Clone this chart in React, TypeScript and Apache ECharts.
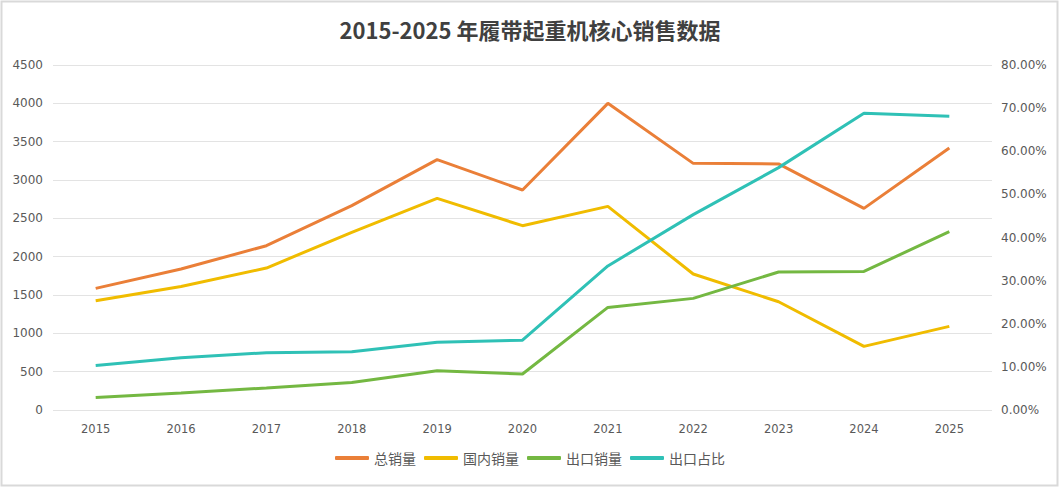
import React, { useEffect, useRef } from "react";
import * as echarts from "echarts";

const years = ["2015", "2016", "2017", "2018", "2019", "2020", "2021", "2022", "2023", "2024", "2025"];
const totalSales = [1586, 1839, 2143, 2665, 3265, 2870, 4000, 3217, 3210, 2630, 3417];
const domesticSales = [1426, 1612, 1852, 2317, 2760, 2404, 2656, 1774, 1412, 830, 1091];
const exportSales = [164, 222, 287, 360, 513, 470, 1338, 1456, 1800, 1808, 2326];
const exportRatio = [10.3, 12.1, 13.3, 13.5, 15.7, 16.2, 33.4, 45.3, 56.2, 68.8, 68.1];

const seriesNames = ["总销量", "国内销量", "出口销量", "出口占比"];
const colors = ["#EA7F38", "#F0BC00", "#74B842", "#2FC1B6"];

export default function App() {
  const ref = useRef<HTMLDivElement>(null);
  useEffect(() => {
    if (!ref.current) return;
    const chart = echarts.init(ref.current, undefined, { renderer: "svg" });
    const font = "'Noto Sans CJK SC', 'Noto Sans', sans-serif";
    const numFont = "'DejaVu Sans', sans-serif";
    const mk = (name: string, data: number[], color: string, yIdx: number) => ({
      name,
      type: "line",
      data,
      yAxisIndex: yIdx,
      symbol: "none",
      showSymbol: false,
      lineStyle: { color, width: 3 },
      itemStyle: { color },
    });
    chart.setOption({
      animation: false,
      backgroundColor: "#ffffff",
      textStyle: { fontFamily: font },
      title: {
        text: "2015-2025 年履带起重机核心销售数据",
        left: "center",
        top: 13,
        textStyle: { fontFamily: font, fontSize: 22, fontWeight: "bold", color: "#404040" },
      },
      graphic: [
        {
          type: "rect",
          shape: { x: 1.5, y: 1.5, width: 1056, height: 484 },
          style: { fill: "none", stroke: "#d9d9d9", lineWidth: 2 },
          silent: true,
        },
      ],
      legend: {
        bottom: 18,
        left: "center",
        icon: "roundRect",
        itemWidth: 34,
        itemHeight: 4,
        itemGap: 8,
        data: seriesNames,
        textStyle: { fontFamily: font, fontSize: 14, color: "#595959" },
      },
      grid: { left: 53, right: 68, top: 65, bottom: 78 },
      xAxis: {
        type: "category",
        data: years,
        boundaryGap: true,
        axisLine: { show: false },
        axisTick: { show: false },
        axisLabel: { color: "#595959", fontSize: 11.5, fontFamily: numFont, margin: 13 },
      },
      yAxis: [
        {
          type: "value",
          min: 0,
          max: 4500,
          interval: 500,
          axisLine: { show: false },
          axisTick: { show: false },
          splitLine: { lineStyle: { color: "#e3e3e3", width: 1 } },
          axisLabel: {
            color: "#595959",
            fontSize: 12,
            fontFamily: numFont,
            margin: 10,
            formatter: (v: number) => String(v),
          },
        },
        {
          type: "value",
          min: 0,
          max: 80,
          interval: 10,
          axisLine: { show: false },
          axisTick: { show: false },
          splitLine: { show: false },
          axisLabel: {
            color: "#595959",
            fontSize: 12,
            fontFamily: numFont,
            margin: 9,
            formatter: (v: number) => v.toFixed(2) + "%",
          },
        },
      ],
      series: [
        mk(seriesNames[0], totalSales, colors[0], 0),
        mk(seriesNames[1], domesticSales, colors[1], 0),
        mk(seriesNames[2], exportSales, colors[2], 0),
        mk(seriesNames[3], exportRatio, colors[3], 1),
      ],
    });
    return () => chart.dispose();
  }, []);
  return (
    <div
      ref={ref}
      style={{ position: "fixed", left: 0, top: 0, width: 1060, height: 488 }}
    />
  );
}
